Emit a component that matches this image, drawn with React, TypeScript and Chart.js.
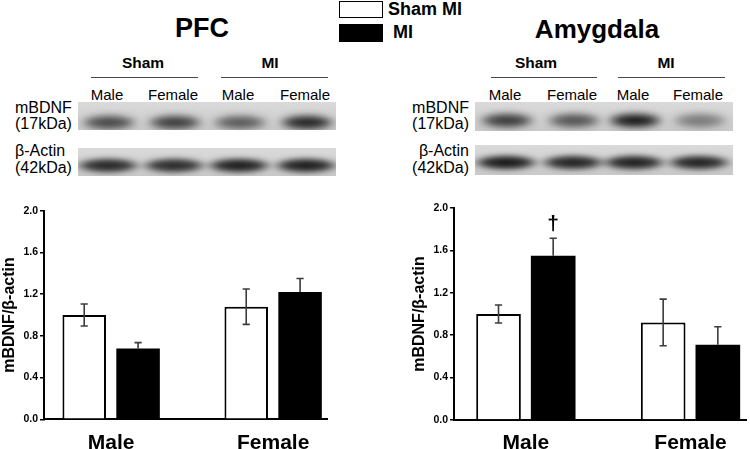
import React, { useEffect, useRef } from 'react';
import { Chart, registerables } from 'chart.js';

Chart.register(...registerables);

// ---------- data ----------
const categories = ['Male', 'Female'];
const seriesNames = ['Sham MI', 'MI'];
const yTickValues = [0, 0.4, 0.8, 1.2, 1.6, 2.0];
const yTitle = 'mBDNF/β-actin';

const pfcSham = [1.0, 1.08];
const pfcShamErr = [0.105, 0.17];
const pfcMI = [0.68, 1.22];
const pfcMIErr = [0.055, 0.13];
const pfcMIMarks = ['', ''];

const amySham = [1.0, 0.92];
const amyShamErr = [0.085, 0.22];
const amyMI = [1.55, 0.71];
const amyMIErr = [0.165, 0.17];
const amyMIMarks = ['†', ''];

const blotGroups = ['Sham', 'MI'];
const blotLanes = ['Male', 'Female', 'Male', 'Female'];
const blotRows = ['mBDNF', '(17kDa)', 'β-Actin', '(42kDa)'];
const pfcBdnfBands = [0.72, 0.78, 0.62, 0.92];
const pfcActinBands = [0.88, 0.86, 0.93, 0.93];
const amyBdnfBands = [0.8, 0.66, 0.98, 0.45];
const amyActinBands = [0.96, 0.9, 0.92, 0.9];

const FONT = "'Liberation Sans', Arial, Helvetica, sans-serif";

// ---------- error bar plugin ----------
const errorBarPlugin = {
  id: 'errorBars',
  afterDatasetsDraw(chart: any) {
    const { ctx } = chart;
    const ys = chart.scales.y;
    chart.data.datasets.forEach((ds: any, di: number) => {
      const meta = chart.getDatasetMeta(di);
      meta.data.forEach((bar: any, i: number) => {
        const v = ds.values[i];
        const e = ds.errors[i];
        const xp = bar.x;
        const top = ys.getPixelForValue(v + e);
        const bot = ds.errBoth ? ys.getPixelForValue(v - e) : ys.getPixelForValue(v);
        ctx.save();
        ctx.strokeStyle = '#3c3c3c';
        ctx.lineWidth = 1.6;
        ctx.beginPath();
        ctx.moveTo(xp, bot);
        ctx.lineTo(xp, top);
        ctx.moveTo(xp - 3.6, top);
        ctx.lineTo(xp + 3.6, top);
        if (ds.errBoth) {
          ctx.moveTo(xp - 3.6, bot);
          ctx.lineTo(xp + 3.6, bot);
        }
        ctx.stroke();
        const mark = ds.marks && ds.marks[i];
        if (mark) {
          ctx.fillStyle = '#000';
          ctx.font = `bold 21px ${FONT}`;
          ctx.textAlign = 'center';
          ctx.textBaseline = 'alphabetic';
          ctx.fillText(mark, xp, top - 8);
        }
        ctx.restore();
      });
    });
  },
};

function buildConfig(
  sham: number[], shamErr: number[], mi: number[], miErr: number[], marks: string[],
  geo: { min: number; max: number; padTop: number; padRight: number; yAxisW: number; xAxisH: number; barPct: number; catPct: number }
): any {
  return {
    type: 'bar',
    data: {
      datasets: [
        {
          label: seriesNames[0],
          data: categories.map((_, i) => ({ x: i, y: sham[i] })),
          values: sham,
          errors: shamErr,
          errBoth: true,
          marks: ['', ''],
          backgroundColor: '#ffffff',
          borderColor: '#000000',
          borderWidth: 2,
          borderSkipped: 'bottom',
          barPercentage: geo.barPct,
          categoryPercentage: geo.catPct,
        },
        {
          label: seriesNames[1],
          data: categories.map((_, i) => ({ x: i, y: mi[i] })),
          values: mi,
          errors: miErr,
          errBoth: false,
          marks,
          backgroundColor: '#000000',
          borderColor: '#000000',
          borderWidth: 0,
          barPercentage: geo.barPct,
          categoryPercentage: geo.catPct,
        },
      ],
    },
    options: {
      animation: false,
      responsive: false,
      maintainAspectRatio: false,
      events: [],
      layout: { padding: { top: geo.padTop, right: geo.padRight, left: 0, bottom: 0 } },
      plugins: { legend: { display: false }, tooltip: { enabled: false }, title: { display: false } },
      scales: {
        x: {
          type: 'linear',
          min: geo.min,
          max: geo.max,
          offset: false,
          afterBuildTicks: (s: any) => { s.ticks = categories.map((_, i) => ({ value: i })); },
          afterFit: (s: any) => { s.height = geo.xAxisH; },
          grid: { display: false, drawTicks: false },
          border: { display: true, color: '#000', width: 2 },
          ticks: {
            callback: (v: any) => categories[Math.round(v)] ?? '',
            font: { family: FONT, size: 21, weight: 'bold' },
            color: '#000',
            padding: 11,
            maxRotation: 0,
            autoSkip: false,
          },
        },
        y: {
          min: 0,
          max: 2,
          afterBuildTicks: (s: any) => { s.ticks = yTickValues.map((v) => ({ value: v })); },
          afterFit: (s: any) => { s.width = geo.yAxisW; },
          grid: { drawOnChartArea: false, drawTicks: true, tickLength: 4, color: '#000', lineWidth: 1.5 },
          border: { display: true, color: '#000', width: 2 },
          ticks: {
            callback: (v: any) => Number(v).toFixed(1),
            font: { family: FONT, size: 10.5, weight: 'bold' },
            color: '#000',
            padding: 2,
          },
          title: {
            display: true,
            text: yTitle,
            font: { family: FONT, size: 16, weight: 'bold' },
            color: '#000',
            padding: 0,
          },
        },
      },
    },
    plugins: [errorBarPlugin],
  };
}

function BarChart(props: { cfg: () => any; left: number; top: number; width: number; height: number }) {
  const ref = useRef<HTMLCanvasElement | null>(null);
  useEffect(() => {
    if (!ref.current) return;
    const chart = new Chart(ref.current, props.cfg());
    return () => chart.destroy();
  }, []);
  return (
    <canvas
      ref={ref}
      width={props.width}
      height={props.height}
      style={{ position: 'absolute', left: props.left, top: props.top, width: props.width, height: props.height }}
    />
  );
}

function Text(props: { text: string; x: number; base: number; size: number; bold?: boolean; align?: 'left' | 'center' | 'right' }) {
  const { text, x, base, size, bold, align = 'left' } = props;
  const top = base - 0.8465 * size;
  const style: any = {
    position: 'absolute',
    top,
    fontFamily: FONT,
    fontSize: size,
    fontWeight: bold ? 'bold' : 'normal',
    lineHeight: 1,
    whiteSpace: 'nowrap',
    color: '#000',
  };
  if (align === 'left') style.left = x;
  else if (align === 'right') style.right = 750 - x;
  else { style.left = x; style.transform = 'translateX(-50%)'; }
  return <div style={style}>{text}</div>;
}

function Blot(props: { left: number; top: number; width: number; height: number; lanes: number[]; bands: number[]; bandW: number; bandH: number; bandY: number; blur: number }) {
  const { left, top, width, height, lanes, bands, bandW, bandH, bandY, blur } = props;
  return (
    <div
      style={{
        position: 'absolute', left, top, width, height, overflow: 'hidden',
        background: 'linear-gradient(#dadada, #c9c9c9)',
      }}
    >
      {bands.map((a, i) => (
        <div
          key={i}
          style={{
            position: 'absolute',
            left: lanes[i] - left - bandW / 2,
            top: bandY - bandH / 2,
            width: bandW,
            height: bandH,
            borderRadius: '50%',
            background: `radial-gradient(ellipse closest-side, rgba(10,10,10,${a}) 0%, rgba(10,10,10,${a * 0.85}) 55%, rgba(10,10,10,0) 100%)`,
            filter: `blur(${blur}px)`,
          }}
        />
      ))}
    </div>
  );
}

function Panel(props: {
  title: string; titleX: number; titleSize: number;
  groupX: number[]; lineX: [number, number][]; laneX: number[];
  labelX: number; labelAlign: 'left' | 'right';
  bdnf: { left: number; top: number; width: number; height: number; bandY: number };
  actin: { left: number; top: number; width: number; height: number; bandY: number };
  bdnfBands: number[]; actinBands: number[];
}) {
  const p = props;
  return (
    <>
      <Text text={p.title} x={p.titleX} base={38} size={p.titleSize} bold align="center" />
      {blotGroups.map((g, i) => (
        <Text key={'g' + i} text={g} x={p.groupX[i]} base={68} size={15.5} bold align="center" />
      ))}
      {p.lineX.map((l, i) => (
        <div key={'l' + i} style={{ position: 'absolute', left: l[0], top: 76.5, width: l[1] - l[0], height: 1, background: '#4a4a4a' }} />
      ))}
      {blotLanes.map((t, i) => (
        <Text key={'n' + i} text={t} x={p.laneX[i]} base={100} size={15} align="center" />
      ))}
      <Text text={blotRows[0]} x={p.labelX} base={114} size={16} align={p.labelAlign} />
      <Text text={blotRows[1]} x={p.labelX} base={130} size={16} align={p.labelAlign} />
      <Text text={blotRows[2]} x={p.labelX} base={157} size={16} align={p.labelAlign} />
      <Text text={blotRows[3]} x={p.labelX} base={174} size={16} align={p.labelAlign} />
      <Blot {...p.bdnf} lanes={p.laneX.map((x) => x + 2)} bands={p.bdnfBands} bandW={62} bandH={17} blur={3} />
      <Blot {...p.actin} lanes={p.laneX.map((x) => x + 1)} bands={p.actinBands} bandW={72} bandH={17} blur={2.4} />
    </>
  );
}

export default function App() {
  return (
    <div style={{ position: 'absolute', left: 0, top: 0, width: 750, height: 449, background: '#fff', overflow: 'hidden' }}>
      {/* legend */}
      <div style={{ position: 'absolute', left: 339, top: 1, width: 44, height: 17, border: '1.6px solid #000', boxSizing: 'border-box', background: '#fff' }} />
      <div style={{ position: 'absolute', left: 339, top: 24, width: 44, height: 18, background: '#000' }} />
      <Text text={seriesNames[0]} x={388} base={15} size={18} bold />
      <Text text={seriesNames[1]} x={393} base={38} size={18} bold />

      <Panel
        title="PFC" titleX={202} titleSize={27}
        groupX={[143, 270]} lineX={[[91, 198], [221, 328]]} laneX={[107, 173, 238, 305]}
        labelX={15} labelAlign="left"
        bdnf={{ left: 78, top: 102, width: 258, height: 28, bandY: 20 }}
        actin={{ left: 78, top: 148, width: 258, height: 28, bandY: 17 }}
        bdnfBands={pfcBdnfBands} actinBands={pfcActinBands}
      />
      <Panel
        title="Amygdala" titleX={597} titleSize={26}
        groupX={[536, 666]} lineX={[[491, 597], [618, 725]]} laneX={[505, 572, 633, 698]}
        labelX={469} labelAlign="right"
        bdnf={{ left: 475, top: 102, width: 258, height: 29, bandY: 18 }}
        actin={{ left: 475, top: 145, width: 258, height: 30, bandY: 17 }}
        bdnfBands={amyBdnfBands} actinBands={amyActinBands}
      />

      <BarChart
        left={0} top={195} width={340} height={254}
        cfg={() => buildConfig(pfcSham, pfcShamErr, pfcMI, pfcMIErr, pfcMIMarks, {
          min: -0.4145, max: 1.3324, padTop: 15.7, padRight: 13, yAxisW: 44, xAxisH: 29.7, barPct: 0.808, catPct: 0.665,
        })}
      />
      <BarChart
        left={410} top={195} width={340} height={254}
        cfg={() => buildConfig(amySham, amyShamErr, amyMI, amyMIErr, amyMIMarks, {
          min: -0.4364, max: 1.3413, padTop: 13, padRight: 3.3, yAxisW: 44, xAxisH: 29, barPct: 0.817, catPct: 0.664,
        })}
      />
    </div>
  );
}
